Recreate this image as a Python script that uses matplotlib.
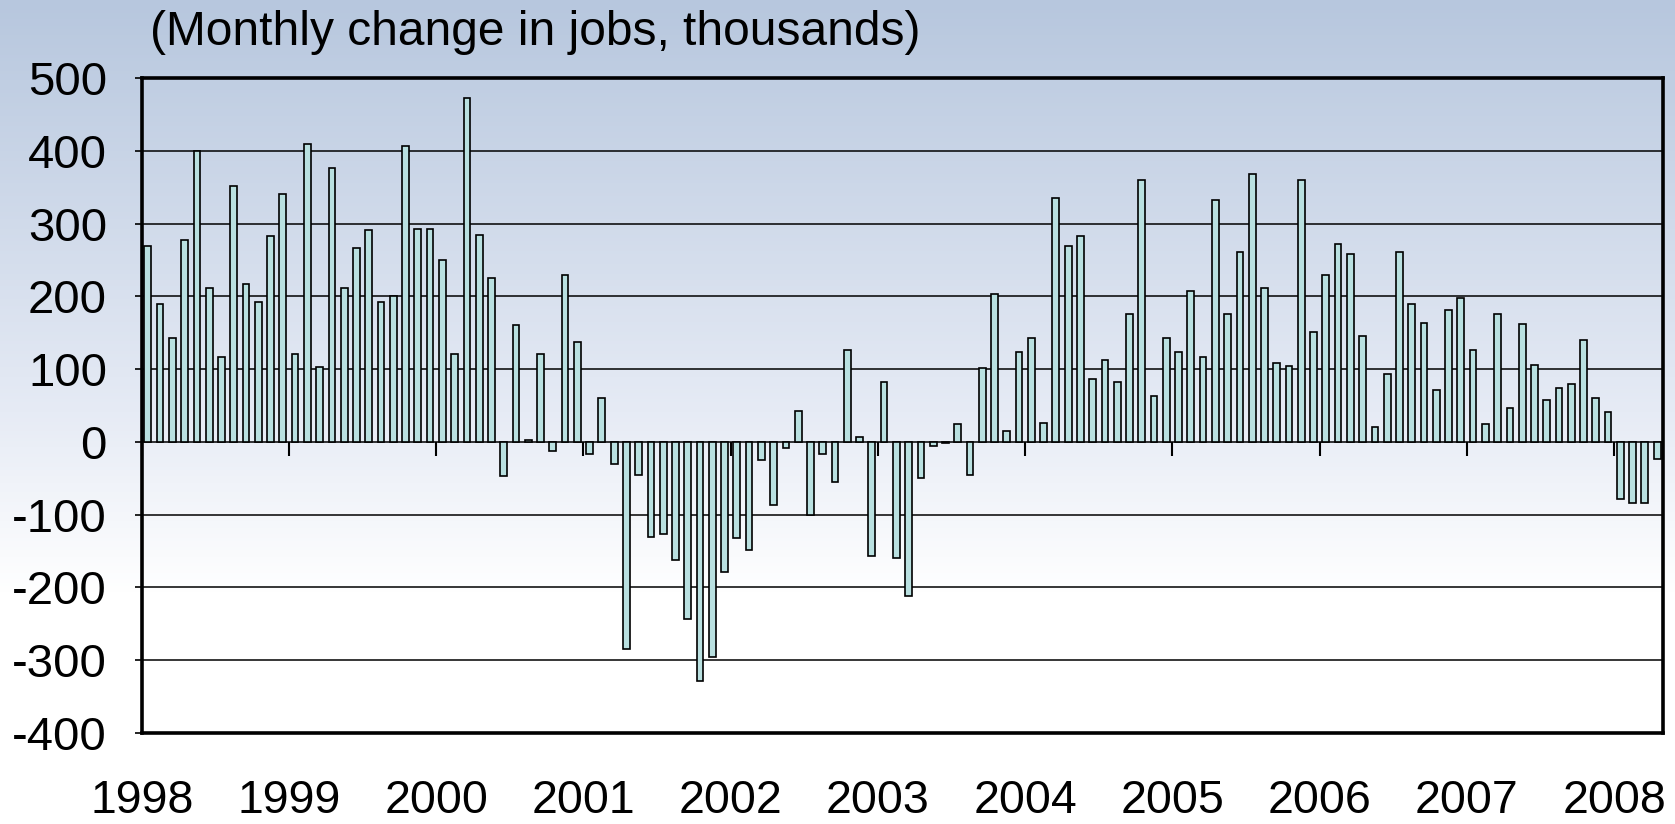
import numpy as np
import matplotlib

matplotlib.use("Agg")
import matplotlib.pyplot as plt
from matplotlib.colors import LinearSegmentedColormap

# monthly change in payroll jobs, thousands
jobs_1998 = [269, 189, 143, 277, 400, 211, 117, 351, 217, 192, 283, 341]
jobs_1999 = [121, 409, 103, 376, 211, 266, 291, 192, 200, 407, 293, 293]
jobs_2000 = [250, 121, 472, 285, 225, -47, 161, 3, 121, -12, 230, 137]
jobs_2001 = [-17, 60, -31, -284, -46, -130, -126, -162, -244, -328, -295, -179]
jobs_2002 = [-132, -149, -25, -86, -9, 43, -100, -17, -55, 126, 7, -157]
jobs_2003 = [82, -160, -212, -50, -6, -2, 24, -46, 101, 203, 15, 123]
jobs_2004 = [143, 26, 335, 269, 283, 87, 112, 82, 176, 360, 63, 143]
jobs_2005 = [123, 208, 117, 332, 176, 261, 368, 211, 109, 104, 360, 151]
jobs_2006 = [230, 272, 258, 145, 21, 93, 261, 189, 164, 71, 181, 198]
jobs_2007 = [126, 24, 176, 47, 162, 106, 57, 74, 79, 140, 60, 41]
jobs_2008 = [-78, -84, -84, -23]

years = list(range(1998, 2009))
y_ticks = list(range(-400, 501, 100))

values = np.array(jobs_1998 + jobs_1999 + jobs_2000 + jobs_2001 + jobs_2002 + jobs_2003
                  + jobs_2004 + jobs_2005 + jobs_2006 + jobs_2007 + jobs_2008, dtype=float)
months = np.arange(len(values)) + 0.5

FONT = ["Liberation Sans", "DejaVu Sans"]
plt.rcParams["font.family"] = FONT

fig = plt.figure(figsize=(16.75, 8.24), dpi=100)

# blue-to-white vertical wash behind everything
bg = fig.add_axes([0, 0, 1, 1], zorder=-10)
wash = LinearSegmentedColormap.from_list(
    "wash", [(0.0, "#b7c7de"), (0.5, "#e6ebf5"), (0.72, "#ffffff"), (1.0, "#ffffff")])
bg.imshow(np.linspace(0, 1, 256)[:, None], aspect="auto", cmap=wash,
          extent=[0, 1, 0, 1], origin="upper")
bg.axis("off")

ax = fig.add_axes([0.0846, 0.1104, 0.9084, 0.7949])
ax.set_facecolor("none")
ax.bar(months, values, width=0.55, color="#b9e0e0", edgecolor="black", linewidth=1.2, zorder=3)

ax.set_xlim(0, len(values))
ax.set_ylim(-400, 500)
ax.set_yticks(y_ticks)
ax.set_yticklabels([str(v) for v in y_ticks], fontsize=34)
ax.grid(axis="y", color="black", linewidth=1.1, zorder=1)
ax.tick_params(axis="y", length=5, width=1.2, pad=20)

# year ticks hang from the zero line, labels sit under the frame
ax.spines["bottom"].set_position(("data", 0))
ax.spines["bottom"].set_visible(False)
ax.set_xticks([12 * i for i in range(len(years))])
ax.tick_params(axis="x", direction="out", length=10, width=1.5, labelbottom=False)
for side in ["top", "left", "right"]:
    ax.spines[side].set_linewidth(2.6)

sec = ax.secondary_xaxis("bottom")
sec.set_xticks([12 * i for i in range(len(years))])
sec.set_xticklabels([str(y) for y in years], fontsize=33.5)
sec.tick_params(axis="x", length=0, pad=33)
sec.spines["bottom"].set_linewidth(2.6)

fig.text(0.0896, 0.960, "(Monthly change in jobs, thousands)", fontsize=34.5,
         ha="left", va="center")

fig.savefig("out.png", dpi=100)
